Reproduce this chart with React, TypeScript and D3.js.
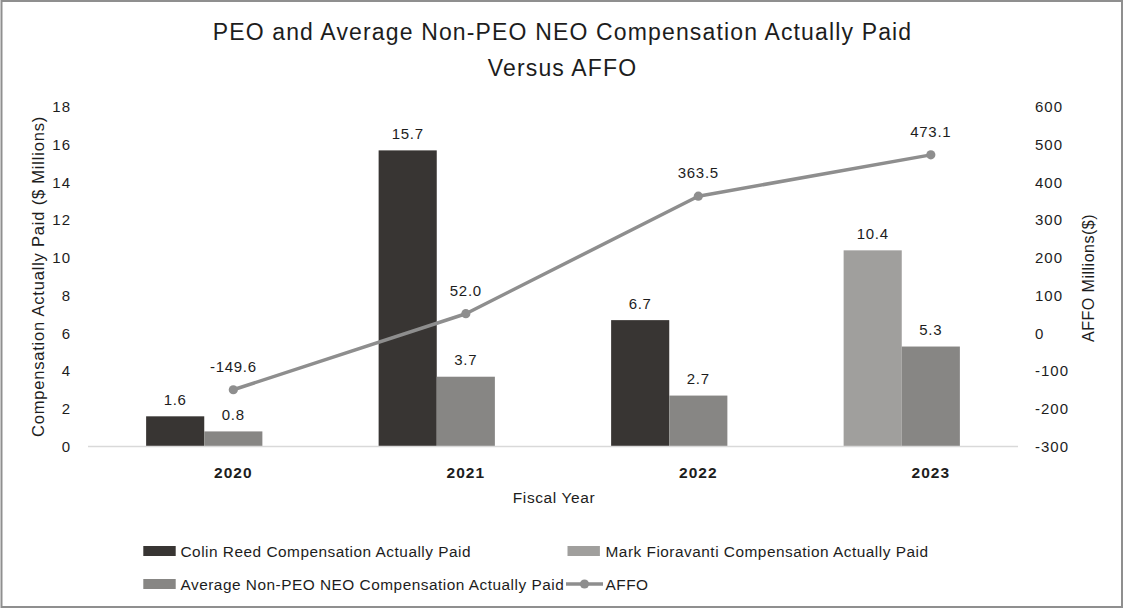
import React from "react";
import * as d3 from "d3";

const years = ["2020", "2021", "2022", "2023"];
const colinReed: (number | null)[] = [1.6, 15.7, 6.7, null];
const markFioravanti: (number | null)[] = [null, null, null, 10.4];
const avgNonPeo: number[] = [0.8, 3.7, 2.7, 5.3];
const affo: number[] = [-149.6, 52.0, 363.5, 473.1];
const leftTicks = [0, 2, 4, 6, 8, 10, 12, 14, 16, 18];
const rightTicks = [-300, -200, -100, 0, 100, 200, 300, 400, 500, 600];

const W = 1126;
const H = 610;
const FONT = "'Liberation Sans', Arial, Helvetica, sans-serif";
const TXT = "#1d1d1d";

const C_COLIN = "#383533";
const C_MARK = "#a09f9d";
const C_AVG = "#878684";
const C_LINE = "#8e8e8e";

export default function App() {
  const x = d3.scaleBand<string>().domain(years).range([88, 1018]).padding(0);
  const sub = d3
    .scaleBand<string>()
    .domain(["peo", "avg"])
    .range([0, x.bandwidth()])
    .paddingInner(0)
    .paddingOuter(1.0);
  const yL = d3.scaleLinear().domain([0, 18]).range([446.5, 107]);
  const yR = d3.scaleLinear().domain([-300, 600]).range([446.5, 107]);
  const bw = sub.bandwidth();
  const ptX = (yr: string) => (x(yr) as number) + x.bandwidth() / 2 + bw / 2;

  const line = d3
    .line<number>()
    .x((_, i) => ptX(years[i]))
    .y((d) => yR(d));

  type BarD = { yr: string; slot: string; v: number; color: string };
  const bars: BarD[] = [];
  years.forEach((yr, i) => {
    const c = colinReed[i];
    if (c != null) bars.push({ yr, slot: "peo", v: c, color: C_COLIN });
    const m = markFioravanti[i];
    if (m != null) bars.push({ yr, slot: "peo", v: m, color: C_MARK });
    bars.push({ yr, slot: "avg", v: avgNonPeo[i], color: C_AVG });
  });

  const labelStyle = { fontFamily: FONT, fontSize: 15, letterSpacing: 0.7, fill: TXT } as const;
  const tickStyle = { fontFamily: FONT, fontSize: 15, letterSpacing: 1.0, fill: TXT } as const;
  const legStyle = { fontFamily: FONT, fontSize: 15.4, letterSpacing: 0.5, fill: TXT } as const;

  return (
    <div style={{ position: "absolute", left: 0, top: 0 }}>
      <svg width={W} height={H} viewBox={`0 0 ${W} ${H}`} style={{ display: "block", background: "#fff" }}>
        <rect x={0} y={0} width={W} height={H} fill="#fff" />
        <rect x={1.5} y={1} width={1120.5} height={606} fill="none" stroke="#8f8f8f" strokeWidth={2} />

        {/* Title */}
        <text x={562.5} y={40} textAnchor="middle" style={{ fontFamily: FONT, fontSize: 23, letterSpacing: 1.15, fill: TXT }}>
          PEO and Average Non-PEO NEO Compensation Actually Paid
        </text>
        <text x={562.5} y={76} textAnchor="middle" style={{ fontFamily: FONT, fontSize: 23, letterSpacing: 1.15, fill: TXT }}>
          Versus AFFO
        </text>

        {/* Left ticks */}
        {leftTicks.map((t) => (
          <text key={"l" + t} x={71} y={yL(t) + 5.3} textAnchor="end" style={tickStyle}>
            {t}
          </text>
        ))}
        {/* Right ticks */}
        {rightTicks.map((t) => (
          <text key={"r" + t} x={1035} y={yR(t) + 5.3} textAnchor="start" style={tickStyle}>
            {t}
          </text>
        ))}

        {/* Axis titles */}
        <text
          transform={`translate(${44},${276.5}) rotate(-90)`}
          textAnchor="middle"
          style={{ fontFamily: FONT, fontSize: 16.5, letterSpacing: 0.8, fill: TXT }}
        >
          Compensation Actually Paid ($ Millions)
        </text>
        <text
          transform={`translate(${1094},${278}) rotate(-90)`}
          textAnchor="middle"
          style={{ fontFamily: FONT, fontSize: 16, letterSpacing: 0.5, fill: TXT }}
        >
          AFFO Millions($)
        </text>

        {/* Bars */}
        {bars.map((b, i) => {
          const bx = (x(b.yr) as number) + (sub(b.slot) as number);
          const top = yL(b.v);
          return (
            <g key={"b" + i}>
              <rect x={bx} y={top} width={bw} height={yL(0) - top} fill={b.color} />
              <text x={bx + bw / 2} y={top - 11.5} textAnchor="middle" style={labelStyle}>
                {b.v.toFixed(1)}
              </text>
            </g>
          );
        })}

        {/* Baseline */}
        <line x1={88} x2={1018} y1={yL(0)} y2={yL(0)} stroke="#d9d9d9" strokeWidth={1.5} />

        {/* AFFO line */}
        <path d={line(affo) as string} fill="none" stroke={C_LINE} strokeWidth={3.5} strokeLinejoin="round" />
        {affo.map((v, i) => (
          <g key={"p" + i}>
            <circle cx={ptX(years[i])} cy={yR(v)} r={4.6} fill={C_LINE} />
            <text x={ptX(years[i])} y={yR(v) - 18} textAnchor="middle" style={labelStyle}>
              {v.toFixed(1)}
            </text>
          </g>
        ))}

        {/* Year labels */}
        {years.map((yr) => (
          <text
            key={"y" + yr}
            x={ptX(yr)}
            y={477.5}
            textAnchor="middle"
            style={{ fontFamily: FONT, fontSize: 15.5, fontWeight: 700, letterSpacing: 1.0, fill: TXT }}
          >
            {yr}
          </text>
        ))}
        <text x={554} y={502.5} textAnchor="middle" style={{ fontFamily: FONT, fontSize: 15.5, letterSpacing: 0.6, fill: TXT }}>
          Fiscal Year
        </text>

        {/* Legend */}
        <rect x={143.3} y={546} width={32.4} height={10} fill={C_COLIN} />
        <text x={180.5} y={556.5} style={legStyle}>Colin Reed Compensation Actually Paid</text>
        <rect x={567.5} y={546} width={32.4} height={10} fill={C_MARK} />
        <text x={605.5} y={556.5} style={legStyle}>Mark Fioravanti Compensation Actually Paid</text>
        <rect x={143.3} y={579} width={32.4} height={10} fill={C_AVG} />
        <text x={180.5} y={589.5} style={legStyle}>Average Non-PEO NEO Compensation Actually Paid</text>
        <line x1={566} x2={603} y1={584} y2={584} stroke={C_LINE} strokeWidth={3.5} />
        <circle cx={584.5} cy={584} r={4.6} fill={C_LINE} />
        <text x={605.5} y={589.5} style={legStyle}>AFFO</text>
      </svg>
    </div>
  );
}
